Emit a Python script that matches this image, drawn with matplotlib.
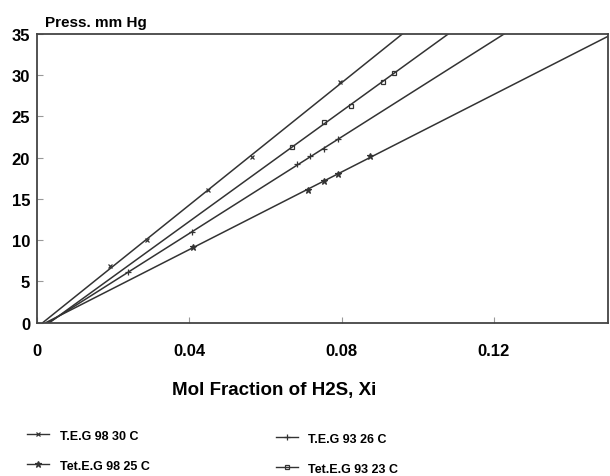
import numpy as np
import matplotlib
matplotlib.use("Agg")
import matplotlib.pyplot as plt

plt.rcParams['font.family'] = ['Liberation Sans', 'DejaVu Sans']

# T.E.G 98 30 C  (x markers)
teg98_x = [0.0192, 0.029, 0.045, 0.0566, 0.0797]
teg98_y = [6.85, 9.95, 16.1, 20.1, 29.2]
# Tet.E.G 93 23 C  (open squares)
tet93_x = [0.067, 0.0755, 0.0824, 0.0908, 0.0937]
tet93_y = [21.25, 24.3, 26.25, 29.2, 30.3]
# T.E.G 93 26 C  (+ markers)
teg93_x = [0.024, 0.0407, 0.0684, 0.0718, 0.0753, 0.079]
teg93_y = [6.15, 10.95, 19.2, 20.15, 21.0, 22.25]
# Tet.E.G 98 25 C  (* markers)
tet98_x = [0.041, 0.0713, 0.0755, 0.0792, 0.0876]
tet98_y = [9.15, 16.05, 17.2, 18.0, 20.2]

xticks = [0, 0.04, 0.08, 0.12]
xtick_labels = ['0', '0.04', '0.08', '0.12']
yticks = [0, 5, 10, 15, 20, 25, 30, 35]

fig = plt.figure(figsize=(6.1, 4.77), dpi=100)
ax = fig.add_axes([0.0607, 0.3218, 0.936, 0.6048])

c = '#333333'
series = [
    (teg98_x, teg98_y, 'x', 'T.E.G 98 30 C', 3.5, 'none'),
    (tet98_x, tet98_y, '*', 'Tet.E.G 98 25 C', 5, c),
    (teg93_x, teg93_y, '+', 'T.E.G 93 26 C', 5, 'none'),
    (tet93_x, tet93_y, 's', 'Tet.E.G 93 23 C', 3.5, 'none'),
]
handles = []
for xs, ys, mk, lab, ms, mfc in series:
    slope, icpt = np.polyfit(xs, ys, 1)
    xl = np.array([-icpt / slope, (35 - icpt) / slope])
    ax.plot(xl, slope * xl + icpt, color=c, lw=1.1)
    ax.plot(xs, ys, ls='none', marker=mk, ms=ms, color=c, mfc=mfc, mew=0.9)
    h, = plt.plot([], [], color=c, lw=1.0, marker=mk, ms=ms, mfc=mfc, mew=0.9, label=lab)
    handles.append(h)

ax.set_xlim(0, 0.15)
ax.set_ylim(0, 35)
ax.set_xticks(xticks)
ax.set_xticklabels(xtick_labels)
ax.set_yticks(yticks)
ax.tick_params(direction='in', length=4, width=0.8, color='#999999', labelsize=12)
ax.tick_params(axis='x', pad=15)
ax.tick_params(axis='y', pad=5)
for lbl in ax.get_xticklabels() + ax.get_yticklabels():
    lbl.set_fontweight('bold')
for s in ax.spines.values():
    s.set_color('#444444')
    s.set_linewidth(1.3)

fig.text(0.074, 0.943, 'Press. mm Hg', fontsize=11, fontweight='bold')
fig.text(0.45, 0.182, 'Mol Fraction of H2S, Xi', fontsize=13.5, fontweight='bold',
         ha='center', va='center')

prop = {'size': 9, 'weight': 'bold'}
fig.legend(handles=handles[:2], loc='upper left', bbox_to_anchor=(0.045, 0.097),
           frameon=False, prop=prop, handlelength=1.7, labelspacing=1.45,
           borderaxespad=0, borderpad=0, handletextpad=0.9)
fig.legend(handles=handles[2:], loc='upper left', bbox_to_anchor=(0.453, 0.091),
           frameon=False, prop=prop, handlelength=1.7, labelspacing=1.45,
           borderaxespad=0, borderpad=0, handletextpad=0.8)

fig.savefig('out.png', dpi=100)
